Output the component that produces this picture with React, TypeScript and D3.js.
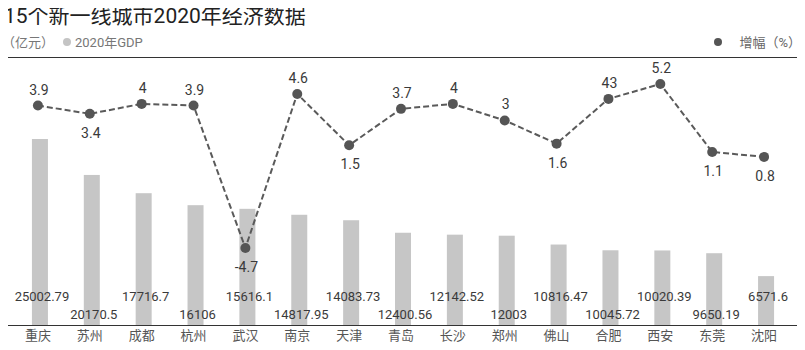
import React, { useEffect, useRef } from 'react';
import * as d3 from 'd3';

const cities = ['重庆', '苏州', '成都', '杭州', '武汉', '南京', '天津', '青岛', '长沙', '郑州', '佛山', '合肥', '西安', '东莞', '沈阳'];
const gdp = [25002.79, 20170.5, 17716.7, 16106, 15616.1, 14817.95, 14083.73, 12400.56, 12142.52, 12003, 10816.47, 10045.72, 10020.39, 9650.19, 6571.6];
const gdpLabels = ['25002.79', '20170.5', '17716.7', '16106', '15616.1', '14817.95', '14083.73', '12400.56', '12142.52', '12003', '10816.47', '10045.72', '10020.39', '9650.19', '6571.6'];
const growth = [3.9, 3.4, 4, 3.9, -4.7, 4.6, 1.5, 3.7, 4, 3, 1.6, 4.3, 5.2, 1.1, 0.8];
const growthLabels = ['3.9', '3.4', '4', '3.9', '-4.7', '4.6', '1.5', '3.7', '4', '3', '1.6', '43', '5.2', '1.1', '0.8'];
const labelBelow = [false, true, false, false, true, false, true, false, false, false, true, false, false, true, true];

const W = 805;
const H = 350;

const App: React.FC = () => {
  const svgRef = useRef<SVGSVGElement>(null);

  useEffect(() => {
    if (!svgRef.current) return;
    const svg = d3.select(svgRef.current);
    svg.selectAll('*').remove();

    const numFont = 'Roboto, "DejaVu Sans", sans-serif';
    const cjkFont = 'Roboto, "Noto Sans CJK SC", sans-serif';

    const x = d3.scaleBand<string>().domain(cities).range([14, 792]).padding(0);
    const yBar = d3.scaleLinear().domain([0, 25002.79]).range([325, 139]);
    const yLine = d3.scaleLinear().domain([-4.7, 5.2]).range([248, 84]);
    const cx = (c: string) => (x(c) || 0) + x.bandwidth() / 2;

    // Title
    svg.append('text')
      .attr('x', 4).attr('y', 23)
      .style('font-family', cjkFont)
      .style('font-size', '21px')
      .attr('fill', '#222')
      .text('15个新一线城市2020年经济数据');

    // Left legend
    svg.append('text')
      .attr('x', 2).attr('y', 47)
      .style('font-family', cjkFont)
      .style('font-size', '13px')
      .attr('fill', '#777')
      .text('（亿元）');
    svg.append('circle').attr('cx', 67).attr('cy', 42).attr('r', 4).attr('fill', '#c4c4c4');
    svg.append('text')
      .attr('x', 75).attr('y', 47)
      .style('font-family', cjkFont)
      .style('font-size', '13px')
      .attr('fill', '#777')
      .text('2020年GDP');

    // Right legend
    svg.append('circle').attr('cx', 718).attr('cy', 42).attr('r', 4).attr('fill', '#555');
    svg.append('text')
      .attr('x', 801).attr('y', 47)
      .attr('text-anchor', 'end')
      .style('font-family', cjkFont)
      .style('font-size', '13px')
      .attr('fill', '#666')
      .text('增幅（%）');

    // Top rule
    svg.append('line')
      .attr('x1', 5).attr('x2', 800).attr('y1', 57.5).attr('y2', 57.5)
      .attr('stroke', '#333').attr('stroke-width', 1.2);

    // Bars
    svg.append('g').selectAll('rect')
      .data(gdp)
      .enter().append('rect')
      .attr('x', (_d, i) => cx(cities[i]) - 8)
      .attr('width', 16)
      .attr('y', d => yBar(d))
      .attr('height', d => yBar(0) - yBar(d))
      .attr('fill', '#c6c6c6');

    // Bar labels
    svg.append('g').selectAll('text')
      .data(gdpLabels)
      .enter().append('text')
      .attr('x', (_d, i) => cx(cities[i]) + 2)
      .attr('y', (_d, i) => (i % 2 === 0 ? 301 : 319))
      .attr('text-anchor', 'middle')
      .style('font-family', numFont)
      .style('font-size', '13px')
      .attr('fill', '#3a3a3a')
      .text(d => d);

    // Axis line
    svg.append('line')
      .attr('x1', 5).attr('x2', 800).attr('y1', 325.5).attr('y2', 325.5)
      .attr('stroke', '#333').attr('stroke-width', 1.2);

    // Category labels
    const xAxis = svg.append('g')
      .attr('transform', 'translate(0,325)')
      .call(d3.axisBottom(x).tickSize(0).tickPadding(6));
    xAxis.select('.domain').remove();
    xAxis.selectAll('text')
      .attr('dx', '-2')
      .attr('fill', '#555')
      .style('font-family', cjkFont)
      .style('font-size', '13px');

    // Line
    const line = d3.line<number>()
      .x((_d, i) => cx(cities[i]) - 2)
      .y(d => yLine(d));
    svg.append('path')
      .datum(growth)
      .attr('fill', 'none')
      .attr('stroke', '#5a5a5a')
      .attr('stroke-width', 2)
      .attr('stroke-dasharray', '6,3')
      .attr('d', line);

    svg.append('g').selectAll('circle')
      .data(growth)
      .enter().append('circle')
      .attr('cx', (_d, i) => cx(cities[i]) - 2)
      .attr('cy', d => yLine(d))
      .attr('r', 5)
      .attr('fill', '#555');

    svg.append('g').selectAll('text')
      .data(growth)
      .enter().append('text')
      .attr('x', (_d, i) => cx(cities[i]) - 1)
      .attr('y', (d, i) => yLine(d) + (labelBelow[i] ? 24 : -11))
      .attr('text-anchor', 'middle')
      .style('font-family', numFont)
      .style('font-size', '14px')
      .attr('fill', '#3a3a3a')
      .text((_d, i) => growthLabels[i]);
  }, []);

  return <svg ref={svgRef} width={W} height={H} style={{ display: 'block', margin: '-8px', background: '#fff' }} />;
};

export default App;
